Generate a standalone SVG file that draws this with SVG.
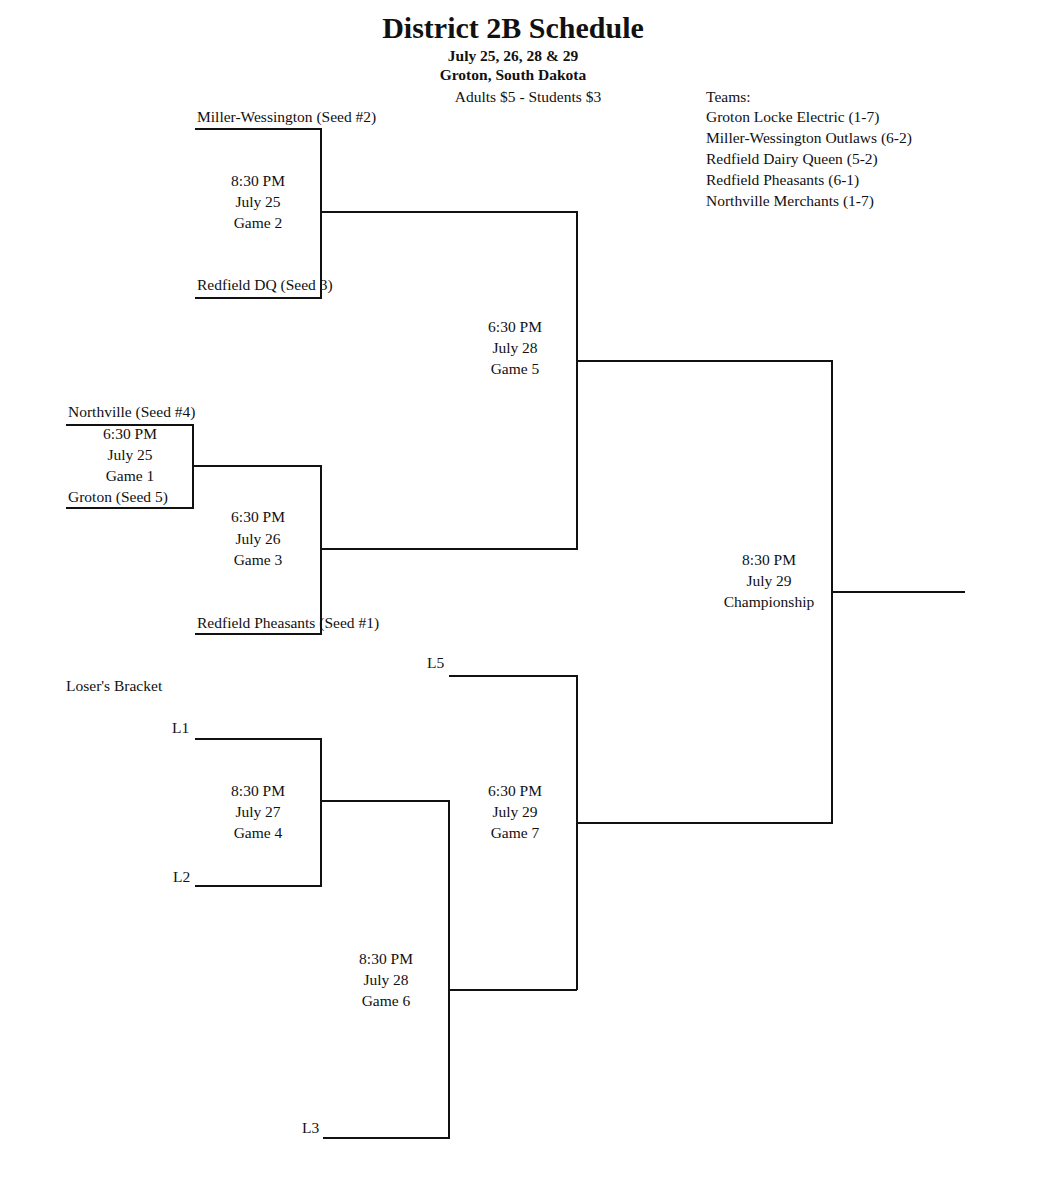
<svg xmlns="http://www.w3.org/2000/svg" width="1052" height="1200" viewBox="0 0 1052 1200">
<style>
text{font-family:"Liberation Serif",serif;font-size:15.5px;fill:#111}
.c{text-anchor:middle}
.b{font-weight:bold}
line,polyline{stroke:#111;stroke-width:2;fill:none}
</style>
<rect width="1052" height="1200" fill="#fff"/>
<text class="c b" x="513" y="38" style="font-size:30px">District 2B Schedule</text>
<text class="c b" x="513" y="61">July 25, 26, 28 &amp; 29</text>
<text class="c b" x="513" y="80">Groton, South Dakota</text>
<text class="c" x="528" y="102">Adults $5 - Students $3</text>
<g id="teams">
<text x="706" y="102">Teams:</text>
<text x="706" y="122">Groton Locke Electric (1-7)</text>
<text x="706" y="143">Miller-Wessington Outlaws (6-2)</text>
<text x="706" y="164">Redfield Dairy Queen (5-2)</text>
<text x="706" y="185">Redfield Pheasants (6-1)</text>
<text x="706" y="206">Northville Merchants (1-7)</text>
</g>
<g id="connectors">
<polyline points="195,129 321,129 321,298 195,298"/>
<polyline points="321,212 577,212 577,549 321,549"/>
<polyline points="66,425 193,425 193,508 66,508"/>
<polyline points="193,466 321,466 321,634 195,634"/>
<polyline points="577,361 832,361 832,823 577,823"/>
<line x1="832" y1="592" x2="965" y2="592"/>
<polyline points="449,676 577,676 577,990"/>
<polyline points="195,739 321,739 321,886 195,886"/>
<polyline points="321,801 449,801 449,1138 323,1138"/>
<line x1="449" y1="990" x2="577" y2="990"/>
</g>
<g id="labels">
<text x="197" y="122">Miller-Wessington (Seed #2)</text>
<text x="197" y="290">Redfield DQ (Seed 3)</text>
<text x="68" y="417">Northville (Seed #4)</text>
<text x="68" y="502">Groton (Seed 5)</text>
<text x="197" y="628">Redfield Pheasants (Seed #1)</text>
<text x="66" y="691">Loser's Bracket</text>
<text x="427" y="668">L5</text>
<text x="172" y="733">L1</text>
<text x="173" y="882">L2</text>
<text x="302" y="1133">L3</text>
</g>
<g id="game2"><text class="c" x="258" y="186">8:30 PM</text><text class="c" x="258" y="207">July 25</text><text class="c" x="258" y="228">Game 2</text></g>
<g id="game5"><text class="c" x="515" y="332">6:30 PM</text><text class="c" x="515" y="353">July 28</text><text class="c" x="515" y="374">Game 5</text></g>
<g id="game1"><text class="c" x="130" y="439">6:30 PM</text><text class="c" x="130" y="460">July 25</text><text class="c" x="130" y="481">Game 1</text></g>
<g id="game3"><text class="c" x="258" y="522">6:30 PM</text><text class="c" x="258" y="544">July 26</text><text class="c" x="258" y="565">Game 3</text></g>
<g id="champ"><text class="c" x="769" y="565">8:30 PM</text><text class="c" x="769" y="586">July 29</text><text class="c" x="769" y="607">Championship</text></g>
<g id="game4"><text class="c" x="258" y="796">8:30 PM</text><text class="c" x="258" y="817">July 27</text><text class="c" x="258" y="838">Game 4</text></g>
<g id="game7"><text class="c" x="515" y="796">6:30 PM</text><text class="c" x="515" y="817">July 29</text><text class="c" x="515" y="838">Game 7</text></g>
<g id="game6"><text class="c" x="386" y="964">8:30 PM</text><text class="c" x="386" y="985">July 28</text><text class="c" x="386" y="1006">Game 6</text></g>
</svg>
